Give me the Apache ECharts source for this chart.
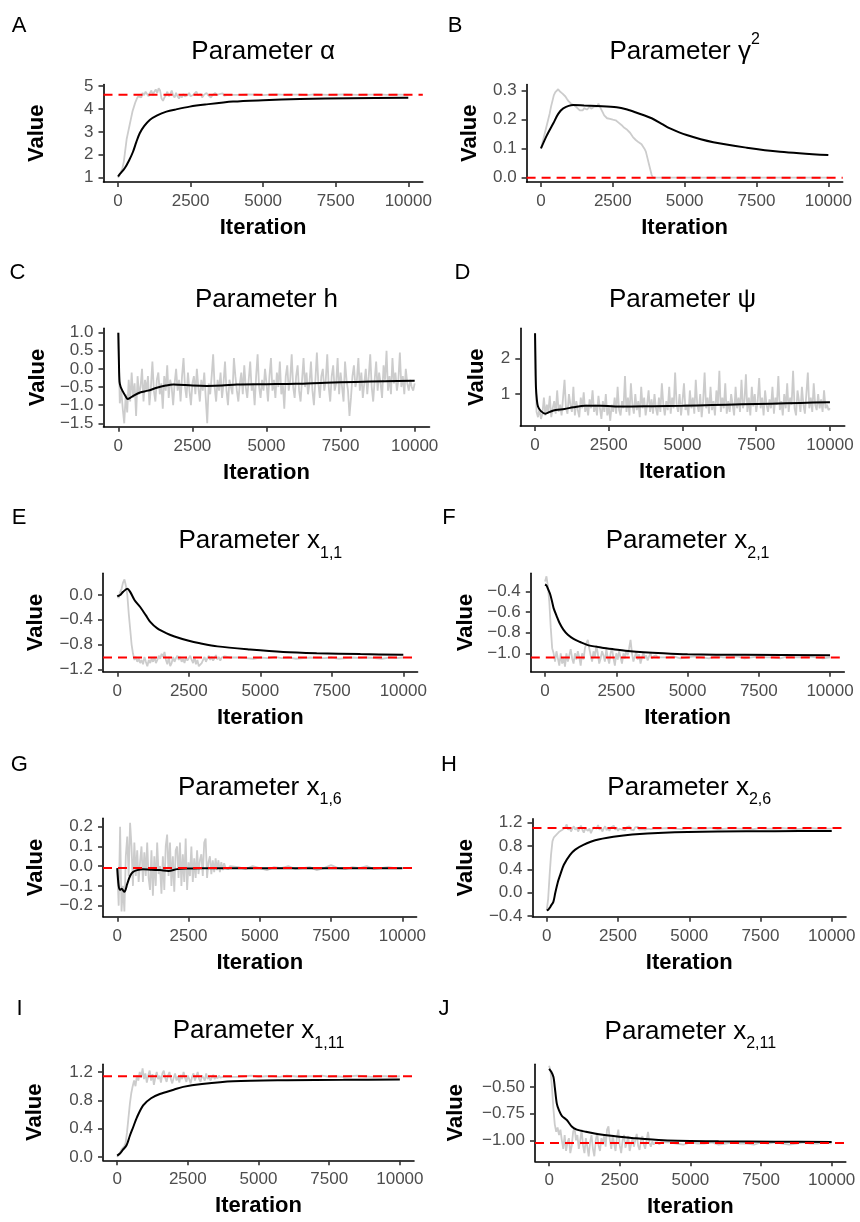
<!DOCTYPE html>
<html>
<head>
<meta charset="utf-8">
<script src="https://cdn.jsdelivr.net/npm/echarts@6.0.0/dist/echarts.min.js"></script>
<style>
  html, body { margin: 0; background: #fff; }
  #chart { width: 860px; height: 1222px; }
</style>
</head>
<body>
<div id="chart"></div>
<script>
// iteration grids for the sampled traces
const fineIters = [];
for (let i = 0; i <= 4000; i += 50) fineIters.push(i);
const coarseIters = [];
for (let i = 4250; i <= 10000; i += 250) coarseIters.push(i);
const traceIters = fineIters.concat(coarseIters);
const denseIters = [];
for (let i = 0; i <= 10000; i += 50) denseIters.push(i);

const xTicks = [0, 2500, 5000, 7500, 10000];

// A: alpha
const alphaTrace = [1.0,1.1,1.25,1.4,1.7,2.2,2.7,3.0,3.3,3.6,3.9,4.1,4.3,4.45,4.55,4.6,4.5,4.7,4.6,4.75,
  4.65,4.55,4.7,4.8,4.6,4.75,4.85,4.7,4.9,4.8,4.45,4.35,4.5,4.6,4.75,4.55,4.65,4.8,4.6,4.5,
  4.7,4.55,4.45,4.6,4.5,4.65,4.55,4.5,4.6,4.7,4.55,4.5,4.62,4.55,4.75,4.6,4.55,4.65,4.5,4.6,
  4.55,4.7,4.6,4.65,4.5,4.6,4.55,4.7,4.6,4.55,4.65,4.6,4.68,4.58,4.64,4.6,4.63,4.6,4.62,4.61,4.62,
  4.61,4.63,4.62,4.6,4.62,4.63,4.61,4.62,4.62,4.6,4.63,4.62,4.61,4.62,4.63,4.62,4.61,4.62,4.62,4.63,4.61,4.62,4.62,4.61];
const alphaMean = [[0,1.05],[60,1.15],[230,1.41],[380,1.75],[517,2.13],[630,2.55],[748,2.94],[900,3.25],
  [1093,3.52],[1350,3.72],[1668,3.88],[2000,3.98],[2472,4.1],[3000,4.19],[3965,4.32],[5000,4.38],
  [6265,4.43],[8000,4.47],[10000,4.49]];

// B: gamma^2
const gammaTrace = [0.10,0.12,0.14,0.16,0.18,0.20,0.22,0.245,0.265,0.285,0.295,0.30,0.305,0.298,0.302,0.29,0.285,0.28,0.272,0.265,
  0.262,0.255,0.258,0.25,0.245,0.242,0.238,0.232,0.236,0.232,0.24,0.238,0.235,0.24,0.245,0.238,0.242,0.245,0.25,0.245,
  0.255,0.245,0.235,0.225,0.215,0.21,0.205,0.2,0.203,0.198,0.2,0.196,0.198,0.192,0.19,0.188,0.182,0.178,0.172,0.168,
  0.165,0.16,0.155,0.15,0.14,0.135,0.13,0.128,0.122,0.12,0.115,0.11,0.1,0.09,0.07,0.05,0.03,0.01,0.0,0.0,0.0,
  0,0,0,0,0,0,0,0,0,0,0,0,0,0,0,0,0,0,0,0,0,0,0,0];
const gammaMean = [[0,0.101],[200,0.145],[430,0.1876],[600,0.22],[776,0.239],[1125,0.2507],[1500,0.249],
  [1937,0.247],[2633,0.2428],[3000,0.235],[3330,0.224],[3852,0.205],[4200,0.186],[4490,0.17],[5070,0.147],
  [5998,0.122],[7159,0.1035],[8319,0.0897],[10000,0.078]];

// C: h
const hTrace = [1.0,-0.95,-0.6,-1.1,-1.5,-0.7,-1.2,-0.3,-0.9,-0.1,-0.8,-0.4,-1.3,-0.2,-0.7,-0.5,0.0,-0.9,-0.3,-0.6,
  -0.2,-1.0,-0.5,0.2,-0.6,-0.9,-0.3,-0.1,-0.7,-0.4,-1.1,-0.2,-0.6,0.1,-0.8,-0.3,-0.5,-1.0,-0.4,0.0,
  -0.6,-0.3,-0.9,-0.2,0.3,-0.5,-0.8,-0.1,-0.6,-1.0,-0.4,-0.2,-0.7,0.0,-0.5,-0.9,-0.3,-0.6,-0.1,-0.8,
  -1.5,-0.4,-0.7,-0.2,0.4,-0.5,-0.9,-0.3,-0.6,-0.1,-0.8,-0.4,0.2,-0.6,-1.0,-0.3,-0.5,-0.7,0.3,-0.2,
  -0.6,-0.9,-0.4,-0.1,-0.7,0.1,-0.5,-0.8,-0.3,0.2,-0.6,-0.4,-1.0,-0.2,0.4,-0.5,-0.8,-0.3,-0.6,0.0,
  -0.4,-0.9,-0.2,0.3,-0.6,-0.3,-0.8,-0.1,-0.5,0.2,-0.7,-0.4,-1.1,-0.2,0.1,-0.6,-0.3,0.4,-0.5,-0.8,
  -0.2,0.1,-0.6,-0.9,-0.3,0.3,-0.5,-0.1,-0.7,-0.4,0.2,-0.6,-1.0,-0.3,0.45,-0.4,-0.8,-0.2,0.0,-0.6,
  -0.3,0.4,-0.5,-0.9,-0.2,0.1,-0.6,-0.4,0.3,-0.7,-0.1,-0.5,-0.9,0.2,-0.3,-0.6,-1.3,-0.8,-0.2,0.1,
  -0.5,-0.3,0.3,-0.6,-0.1,-0.8,-0.4,0.0,-0.7,-0.2,0.4,-0.5,-0.9,-0.3,0.2,-0.6,-0.1,-0.4,-0.8,0.1,
  -0.3,0.5,-0.6,-0.2,-0.7,0.3,-0.4,-0.1,-0.6,-0.3,0.45,-0.5,-0.2,-0.7,0.0,-0.4,-0.6,-0.3,-0.5,-0.6,
  -0.4];
const hMean = [[0,1.0],[20,0.2],[40,-0.35],[80,-0.5],[150,-0.62],[250,-0.76],[316,-0.83],[400,-0.8],
  [550,-0.72],[732,-0.65],[1000,-0.6],[1296,-0.52],[1600,-0.46],[1856,-0.43],[2500,-0.46],[3000,-0.47],
  [3500,-0.46],[4000,-0.43],[5000,-0.42],[6000,-0.41],[7000,-0.38],[8000,-0.36],[9000,-0.34],[10000,-0.33]];

// D: psi
const psiTrace = [2.7,0.5,0.35,0.6,0.3,0.45,0.9,0.4,0.7,0.5,0.95,0.35,0.6,0.8,0.45,1.1,0.5,0.7,0.4,0.9,
  1.4,0.6,0.45,1.0,0.7,0.5,1.2,0.4,0.8,0.55,0.35,0.9,0.6,1.05,0.5,0.7,0.4,0.85,0.6,1.1,
  0.5,0.7,0.4,0.95,0.6,0.3,0.8,0.5,1.0,0.4,0.65,0.25,0.7,0.5,0.9,0.45,1.2,0.55,0.4,0.8,
  0.6,1.5,0.5,0.9,0.4,1.3,0.7,0.45,1.0,0.55,0.8,0.35,1.2,0.6,0.9,0.4,0.7,1.1,0.5,0.85,
  0.45,1.0,0.6,0.4,0.9,0.5,1.3,0.7,0.4,0.8,0.55,1.2,0.45,0.9,0.6,1.6,0.7,0.5,1.0,0.4,
  0.8,1.3,0.55,0.7,0.4,1.1,0.6,0.9,0.45,1.4,0.7,0.5,1.0,0.35,0.8,1.6,0.6,0.9,0.45,1.2,
  0.55,0.8,0.4,1.1,0.7,1.65,0.5,0.9,0.6,1.3,0.45,0.8,0.5,1.0,0.7,0.4,1.2,0.6,0.9,0.5,
  1.4,0.6,0.8,1.55,0.5,0.9,0.4,1.2,0.65,1.0,0.5,0.8,1.45,0.6,0.9,0.4,1.1,0.7,0.5,0.85,
  0.6,1.2,0.45,0.9,0.7,1.5,0.55,0.8,0.4,1.0,0.6,1.3,0.5,0.9,0.7,1.65,0.6,0.4,1.1,0.8,
  0.5,1.2,0.7,0.45,1.0,1.6,0.6,0.9,0.5,1.3,0.7,0.55,1.0,0.6,0.85,0.5,1.1,0.6,0.7,0.55,
  0.6];
const psiMean = [[0,2.7],[15,1.8],[30,1.2],[60,0.85],[100,0.65],[200,0.52],[350,0.45],[500,0.5],[700,0.55],
  [1000,0.58],[1300,0.63],[1700,0.67],[2200,0.67],[3000,0.65],[4000,0.66],[5000,0.67],[6000,0.69],
  [7000,0.71],[8000,0.73],[9000,0.75],[10000,0.77]];

// E: x_{1,1}
const x11Trace = [0.0,-0.05,0.05,0.1,0.2,0.25,0.15,0.0,-0.3,-0.55,-0.8,-0.95,-1.05,-1.0,-1.08,-1.02,-1.1,-1.05,-1.12,-1.0,
  -1.08,-1.15,-1.05,-1.1,-1.02,-1.08,-1.0,-1.1,-1.05,-0.98,-1.03,-0.95,-1.0,-0.92,-1.05,-1.12,-1.0,-1.15,-1.1,-1.0,
  -1.08,-1.02,-0.98,-1.05,-1.0,-1.08,-1.03,-1.1,-1.0,-1.06,-1.02,-0.98,-1.05,-1.1,-1.0,-1.12,-1.05,-1.15,-1.18,-1.1,
  -1.05,-1.0,-1.08,-1.02,-0.98,-1.05,-1.0,-1.06,-1.02,-0.97,-1.04,-1.0,-1.06,-1.01,-1.03,-0.99,-1.02,-1.0,-1.03,-1.01,-1.02,
  -1.01,-1.02,-1.03,-1.01,-1.02,-1.0,-1.02,-1.01,-1.03,-1.02,-1.01,-1.02,-1.02,-1.01,-1.03,-1.02,-1.01,-1.02,-1.01,-1.02,-1.03,-1.01,-1.02,-1.01];
const x11Mean = [[0,-0.02],[100,0.0],[200,0.05],[350,0.1],[450,0.05],[600,-0.08],[794,-0.19],[1000,-0.33],
  [1143,-0.43],[1400,-0.54],[1727,-0.62],[2000,-0.67],[2500,-0.74],[2890,-0.78],[3500,-0.83],[4640,-0.88],
  [5800,-0.92],[6972,-0.94],[8500,-0.955],[10000,-0.965]];

// F: x_{2,1}
const x21Trace = [-0.3,-0.25,-0.35,-0.5,-0.75,-0.95,-1.0,-1.08,-0.98,-1.05,-1.12,-1.0,-1.1,-1.04,-1.13,-1.0,-1.08,-1.02,-0.96,-1.05,
  -1.1,-1.0,-1.06,-0.98,-1.04,-1.12,-1.0,-1.06,-0.95,-0.9,-0.87,-0.95,-1.02,-1.08,-0.98,-1.04,-0.92,-1.0,-1.1,-1.05,
  -0.98,-1.02,-1.08,-0.96,-1.04,-1.1,-1.0,-0.95,-1.05,-1.12,-1.0,-1.06,-0.98,-1.04,-1.1,-1.0,-1.05,-0.97,-1.02,-0.95,
  -0.87,-1.0,-1.08,-1.03,-0.98,-1.06,-1.01,-1.1,-1.04,-0.99,-1.05,-1.02,-1.07,-1.03,-1.0,-1.05,-1.03,-1.04,-1.02,-1.04,-1.03,
  -1.04,-1.03,-1.05,-1.04,-1.03,-1.04,-1.05,-1.03,-1.04,-1.04,-1.03,-1.05,-1.04,-1.03,-1.04,-1.04,-1.05,-1.03,-1.04,-1.04,-1.03,-1.04,-1.05,-1.04];
const x21Mean = [[0,-0.33],[50,-0.34],[100,-0.37],[175,-0.42],[250,-0.5],[300,-0.56],[410,-0.64],[500,-0.7],
  [643,-0.77],[800,-0.82],[1000,-0.86],[1228,-0.89],[1500,-0.92],[2000,-0.945],[2400,-0.96],[3000,-0.98],
  [4150,-1.0],[5000,-1.01],[7000,-1.015],[10000,-1.02]];

// G: x_{1,6}
const x16Trace = [-0.01,-0.2,0.2,-0.23,-0.1,-0.23,0.05,0.15,-0.05,0.22,0.1,-0.1,0.12,-0.05,0.08,-0.08,0.02,0.1,-0.08,0.07,
  -0.05,0.12,-0.06,-0.12,0.08,-0.15,0.05,-0.1,0.12,-0.04,0.0,-0.14,0.05,-0.12,0.1,0.16,-0.05,0.12,-0.1,0.05,
  -0.13,0.08,0.1,-0.06,0.12,-0.1,0.06,-0.08,0.14,-0.12,0.02,-0.05,0.1,-0.08,0.04,-0.06,0.08,-0.04,0.03,0.06,
  -0.05,0.12,0.14,-0.06,0.02,0.05,-0.04,0.03,-0.03,0.04,-0.02,0.03,-0.03,0.02,-0.02,0.015,-0.01,0.0,-0.015,0.0,-0.01,
  -0.005,-0.015,0.0,-0.01,-0.02,-0.005,-0.01,0.0,-0.015,-0.01,-0.005,-0.02,-0.01,0.005,-0.01,-0.015,-0.005,-0.01,0.0,-0.015,-0.01,-0.005,-0.01,-0.01];
const x16Mean = [[0,-0.01],[50,-0.1],[100,-0.12],[150,-0.115],[250,-0.13],[350,-0.09],[450,-0.05],[550,-0.03],
  [700,-0.02],[900,-0.015],[1200,-0.018],[1500,-0.02],[1800,-0.024],[2100,-0.015],[2500,-0.012],[3000,-0.01],
  [5000,-0.01],[10000,-0.01]];

// H: x_{2,6}
const x26Trace = [-0.3,-0.1,0.3,0.65,0.88,0.95,0.92,1.0,0.98,1.05,1.02,1.08,1.05,1.12,1.17,1.08,1.12,1.05,1.1,1.14,
  1.08,1.12,1.05,1.1,1.15,1.08,1.03,1.1,1.13,1.06,1.1,1.02,1.08,1.12,1.15,1.1,1.16,1.08,1.12,1.05,
  1.1,1.14,1.07,1.11,1.06,1.12,1.09,1.15,1.08,1.12,1.06,1.1,1.13,1.08,1.11,1.07,1.12,1.09,1.14,1.08,
  1.11,1.07,1.12,1.1,1.13,1.08,1.11,1.09,1.12,1.08,1.11,1.1,1.12,1.09,1.11,1.1,1.11,1.1,1.11,1.1,1.1,
  1.11,1.1,1.09,1.11,1.1,1.1,1.11,1.09,1.1,1.11,1.1,1.1,1.09,1.11,1.1,1.1,1.11,1.1,1.09,1.1,1.11,1.1,1.1,1.1];
const x26Mean = [[0,-0.3],[50,-0.29],[100,-0.26],[150,-0.22],[232,-0.155],[300,0.0],[400,0.2],[467,0.3],
  [600,0.48],[818,0.65],[1000,0.74],[1286,0.82],[1700,0.9],[2339,0.96],[3000,1.0],[4094,1.03],[6000,1.05],
  [8000,1.055],[10000,1.06]];

// I: x_{1,11}
const x111Trace = [0.0,0.02,0.06,0.1,0.12,0.15,0.2,0.35,0.55,0.75,0.9,1.0,1.08,1.0,1.15,1.08,1.2,1.12,1.25,1.1,
  1.18,1.05,1.15,1.22,1.08,1.17,1.02,1.12,1.2,1.1,1.15,1.05,1.18,1.22,1.12,1.06,1.15,1.2,1.1,1.04,
  1.12,1.18,1.08,1.14,1.05,1.16,1.1,1.2,1.12,1.06,1.15,1.1,1.04,1.13,1.18,1.08,1.14,1.2,1.1,1.06,
  1.15,1.12,1.08,1.18,1.1,1.14,1.08,1.12,1.16,1.1,1.14,1.11,1.15,1.12,1.14,1.13,1.15,1.13,1.14,1.13,1.14,
  1.13,1.14,1.15,1.13,1.14,1.14,1.13,1.15,1.14,1.13,1.14,1.14,1.15,1.13,1.14,1.13,1.14,1.15,1.14,1.13,1.14,1.14,1.13,1.14];
const x111Mean = [[0,0.02],[100,0.05],[200,0.1],[332,0.165],[450,0.3],[566,0.42],[700,0.56],[920,0.73],
  [1200,0.83],[1510,0.89],[2000,0.95],[2335,0.99],[3000,1.03],[4103,1.07],[6000,1.085],[8000,1.09],[10000,1.095]];

// J: x_{2,11}
const x211Trace = [-0.3,-0.35,-0.5,-0.7,-0.85,-0.92,-0.88,-0.95,-0.9,-1.0,-1.08,-0.95,-1.1,-1.02,-0.98,-1.12,-1.05,-0.92,-0.88,-1.0,
  -0.95,-1.08,-1.0,-0.9,-1.05,-1.12,-0.98,-1.06,-1.15,-1.02,-0.95,-1.08,-1.15,-1.0,-0.93,-1.05,-1.1,-0.98,-1.04,-0.95,
  -1.06,-0.9,-0.87,-1.0,-1.08,-0.95,-1.03,-1.1,-0.97,-0.9,-1.05,-1.12,-1.0,-0.95,-1.07,-1.02,-0.96,-1.1,-1.04,-0.98,
  -1.06,-1.0,-0.94,-1.05,-1.09,-1.0,-0.96,-1.04,-1.08,-1.0,-0.92,-1.02,-1.06,-1.01,-1.04,-1.02,-1.03,-1.02,-1.04,-1.02,-1.03,
  -1.02,-1.03,-1.04,-1.02,-1.03,-1.03,-1.02,-1.04,-1.03,-1.02,-1.03,-1.03,-1.04,-1.02,-1.03,-1.02,-1.03,-1.04,-1.03,-1.02,-1.03,-1.03,-1.02,-1.03];
const x211Mean = [[0,-0.33],[80,-0.36],[153,-0.406],[200,-0.5],[272,-0.656],[350,-0.72],[450,-0.77],[626,-0.81],
  [800,-0.87],[980,-0.9],[1300,-0.92],[1700,-0.94],[2275,-0.96],[3000,-0.98],[4040,-1.0],[6000,-1.01],
  [8000,-1.013],[10000,-1.015]];

// true parameter values (null = no reference line)
const trueValues = [4.62, 0, null, null, -1.01, -1.04, -0.009, 1.11, 1.14, -1.025];

const FONT = 'Liberation Sans, Arial, sans-serif';

const panels = [
  { tag: 'A', title: '{m|Parameter α}', iters: traceIters, trace: alphaTrace, mean: alphaMean,
    yMin: 0.81, yMax: 5.065, yTicks: [1, 2, 3, 4, 5], dec: 0,
    box: [103.5, 84.5, 319.3, 97.5], yGap: 56, tagXY: [19, 24], titleY: 51.7 },
  { tag: 'B', title: '{m|Parameter γ}{sup|2}', iters: traceIters, trace: gammaTrace, mean: gammaMean,
    yMin: -0.0148, yMax: 0.3214, yTicks: [0, 0.1, 0.2, 0.3], dec: 1,
    box: [526.6, 84.5, 316.1, 97.5], yGap: 46, tagXY: [455, 23.5], titleY: 51.7 },
  { tag: 'C', title: '{m|Parameter h}', iters: denseIters, trace: hTrace, mean: hMean,
    yMin: -1.594, yMax: 1.12, yTicks: [-1.5, -1, -0.5, 0, 0.5, 1], dec: 1,
    box: [103.5, 328.3, 326, 98.4], yGap: 55, tagXY: [17.5, 270.8], titleY: 299.7 },
  { tag: 'D', title: '{m|Parameter ψ}', iters: denseIters, trace: psiTrace, mean: psiMean,
    yMin: 0.104, yMax: 2.84, yTicks: [1, 2], dec: 0,
    box: [520.3, 328.3, 324.4, 97.7], yGap: 32, tagXY: [462.5, 270.8], titleY: 299.4 },
  { tag: 'E', title: '{m|Parameter x}{sub|1,1}', iters: traceIters, trace: x11Trace, mean: x11Mean,
    yMin: -1.239, yMax: 0.35, yTicks: [-1.2, -0.8, -0.4, 0], dec: 1,
    box: [103, 573.3, 314.6, 98.4], yGap: 56, tagXY: [19, 515.8], titleY: 541.3 },
  { tag: 'F', title: '{m|Parameter x}{sub|2,1}', iters: traceIters, trace: x21Trace, mean: x21Mean,
    yMin: -1.179, yMax: -0.221, yTicks: [-1.0, -0.8, -0.6, -0.4], dec: 1,
    box: [530.8, 573.3, 313.5, 98.4], yGap: 54, tagXY: [449, 515.8], titleY: 541.3 },
  { tag: 'G', title: '{m|Parameter x}{sub|1,6}', iters: traceIters, trace: x16Trace, mean: x16Mean,
    yMin: -0.256, yMax: 0.2425, yTicks: [-0.2, -0.1, 0, 0.1, 0.2], dec: 1,
    box: [103, 818.3, 313.6, 98.4], yGap: 56, tagXY: [19.3, 762.5], titleY: 787.5 },
  { tag: 'H', title: '{m|Parameter x}{sub|2,6}', iters: traceIters, trace: x26Trace, mean: x26Mean,
    yMin: -0.41, yMax: 1.269, yTicks: [-0.4, 0, 0.4, 0.8, 1.2], dec: 1,
    box: [532.5, 818.7, 313.5, 98], yGap: 56, tagXY: [449, 762.5], titleY: 787.5 },
  { tag: 'I', title: '{m|Parameter x}{sub|1,11}', iters: traceIters, trace: x111Trace, mean: x111Mean,
    yMin: -0.047, yMax: 1.309, yTicks: [0, 0.4, 0.8, 1.2], dec: 1,
    box: [103, 1064.3, 311, 96], yGap: 57, tagXY: [19.5, 1006.5], titleY: 1031.2 },
  { tag: 'J', title: '{m|Parameter x}{sub|2,11}', iters: traceIters, trace: x211Trace, mean: x211Mean,
    yMin: -1.197, yMax: -0.287, yTicks: [-1.0, -0.75, -0.5], dec: 2,
    box: [535, 1064.3, 310.8, 97], yGap: 68, tagXY: [444, 1006.5], titleY: 1031.7 }
];

function fmt(v, dec) {
  const s = Math.abs(v).toFixed(dec);
  return (v < 0 ? '\u2212' : '') + s;
}

const grids = [], xAxes = [], yAxes = [], series = [], titles = [];

panels.forEach((p, i) => {
  const [left, top, width, height] = p.box;
  grids.push({ left, top, width, height, containLabel: false });

  xAxes.push({
    type: 'value', gridIndex: i, min: -500, max: 10500,
    name: 'Iteration', nameLocation: 'middle', nameGap: 35,
    nameTextStyle: { fontFamily: FONT, fontSize: 22, fontWeight: 'bold', color: '#000' },
    axisLine: { onZero: false, lineStyle: { color: '#000', width: 1.6 } },
    axisTick: { customValues: xTicks, length: 5, lineStyle: { color: '#333', width: 1.6 } },
    axisLabel: { customValues: xTicks, color: '#4d4d4d', fontSize: 17, fontFamily: FONT, margin: 11,
      formatter: v => String(v) },
    splitLine: { show: false }
  });

  yAxes.push({
    type: 'value', gridIndex: i, min: p.yMin, max: p.yMax,
    name: 'Value', nameLocation: 'middle', nameGap: p.yGap,
    nameTextStyle: { fontFamily: FONT, fontSize: 22, fontWeight: 'bold', color: '#000' },
    axisLine: { onZero: false, lineStyle: { color: '#000', width: 1.6 } },
    axisTick: { customValues: p.yTicks, length: 5, lineStyle: { color: '#333', width: 1.6 } },
    axisLabel: { customValues: p.yTicks, color: '#4d4d4d', fontSize: 17, fontFamily: FONT, margin: 10,
      formatter: v => fmt(v, p.dec) },
    splitLine: { show: false }
  });

  series.push({
    type: 'line', xAxisIndex: i, yAxisIndex: i, symbol: 'none', silent: true, z: 2,
    data: p.iters.map((it, k) => [it, p.trace[k]]),
    lineStyle: { color: '#cccccc', width: 1.8 }
  });
  series.push({
    type: 'line', xAxisIndex: i, yAxisIndex: i, symbol: 'none', silent: true, z: 3,
    data: p.mean, smooth: 0.3,
    lineStyle: { color: '#000', width: 2 }
  });
  if (trueValues[i] !== null) {
    series.push({
      type: 'line', xAxisIndex: i, yAxisIndex: i, symbol: 'none', silent: true, z: 4,
      data: [[-500, trueValues[i]], [10500, trueValues[i]]],
      lineStyle: { color: '#ff0000', width: 2, type: [9, 6] }
    });
  }

  titles.push({
    text: p.title, left: left + width / 2, top: p.titleY - 20, textAlign: 'center', padding: 0,
    textStyle: {
      fontWeight: 'normal', fontFamily: FONT,
      rich: {
        m: { fontFamily: FONT, fontWeight: 'normal', fontSize: 26, color: '#000', lineHeight: 40, verticalAlign: 'middle' },
        sub: { fontFamily: FONT, fontWeight: 'normal', fontSize: 16, color: '#000', lineHeight: 20, verticalAlign: 'bottom' },
        sup: { fontFamily: FONT, fontWeight: 'normal', fontSize: 16, color: '#000', lineHeight: 20, verticalAlign: 'top' }
      }
    }
  });
  titles.push({
    text: p.tag, left: p.tagXY[0], top: p.tagXY[1] - 11, textAlign: 'center', padding: 0,
    textStyle: { fontFamily: FONT, fontSize: 22, fontWeight: 'normal', color: '#000', lineHeight: 26 }
  });
});

const chart = echarts.init(document.getElementById('chart'));
chart.setOption({
  backgroundColor: '#fff',
  animation: false,
  title: titles,
  grid: grids,
  xAxis: xAxes,
  yAxis: yAxes,
  series: series
});
</script>
</body>
</html>
